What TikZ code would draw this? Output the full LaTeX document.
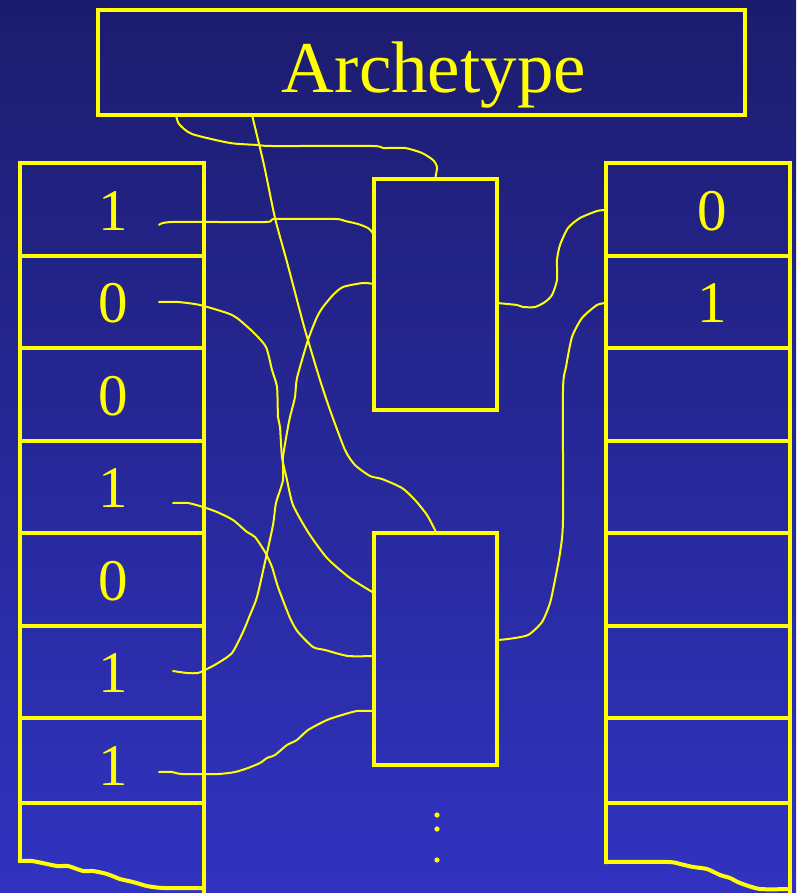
\documentclass[tikz,border=0pt]{standalone}
\usepackage{fontspec}
\setmainfont{Liberation Serif}
\usetikzlibrary{positioning}

\definecolor{bgtop}{RGB}{28,28,110}
\definecolor{bgbot}{RGB}{49,51,192}
\definecolor{wirey}{RGB}{255,255,0}

\begin{document}
\begin{tikzpicture}[x=1pt, y=-1pt,
  frame/.style={draw=wirey, line width=4pt},
  blk/.style={frame, rectangle, inner sep=0pt},
  wire/.style={draw=wirey, line width=2pt, line join=round, line cap=round},
  digit/.style={text=wirey, font=\fontsize{59}{60}\selectfont, inner sep=0pt}
]

% Background
\shade[top color=bgtop, bottom color=bgbot] (0,0) rectangle (796,893);
\useasboundingbox (0,0) rectangle (796,893);

% Archetype
\node[blk, minimum width=647pt, minimum height=105pt] (arch) at (421.5,62.5) {};
\node[text=wirey, font=\fontsize{73}{74}\selectfont, anchor=base, inner sep=0pt] (archtxt) at (434,93) {Archetype};

% Middle boxes
\node[blk, minimum width=123pt, minimum height=231pt] (upb) at (435.5,294.5) {};
\node[blk, minimum width=123pt, minimum height=232pt] (lwb) at (435.5,649) {};

% Left column
\draw[frame] (20,861) -- (20,163) -- (204,163) -- (204,893);
\foreach \y in {256,348,441,533,626,718,803}
  \draw[frame] (20,\y) -- (204,\y);
\draw[frame, line join=round] plot[smooth, tension=0.4] coordinates {(18,861) (32,861) (57,866) (68,866) (83,871) (93,871) (107,874) (120,879) (133,882) (147,886) (163,888) (204,888)};

\node[digit] (l1) at (113,211) {1};
\node[digit] (l2) at (113,303.5) {0};
\node[digit] (l3) at (113,396) {0};
\node[digit] (l4) at (113,488.5) {1};
\node[digit] (l5) at (113,581) {0};
\node[digit] (l6) at (113,673.5) {1};
\node[digit] (l7) at (113,766) {1};

% Right column
\draw[frame] (606,861) -- (606,163) -- (790,163) -- (790,893);
\foreach \y in {256,348,441,533,626,718,803}
  \draw[frame] (606,\y) -- (790,\y);
\draw[frame, line join=round] plot[smooth, tension=0.4] coordinates {(604,862) (668,862) (680,864) (693,867) (707,869) (720,875) (730,878) (740,883) (760,889) (790,889)};

\node[digit] (r1) at (712,211) {0};
\node[digit] (r2) at (712,303.5) {1};

% Ports
\coordinate (aA) at (176,115);
\coordinate (aB) at (252,115);
\coordinate (p1) at (159,225);
\coordinate (p2) at (159,302);
\coordinate (p4) at (173,503);
\coordinate (p6) at (173,671);
\coordinate (p7) at (159,772);
\coordinate (u1) at (374,236);
\coordinate (u2) at (374,284);
\coordinate (u3) at (497,303);
\coordinate (d1) at (374,593);
\coordinate (d2) at (374,656);
\coordinate (d3) at (374,711);
\coordinate (d4) at (497,640);
\coordinate (q1) at (606,210);
\coordinate (q2) at (606,303);

% Wires
\draw[wire] plot[smooth, tension=0.4] coordinates {(aA) (179,124) (192,134) (230,143) (258,145) (272,146) (372,146) (383,148) (405,148) (422,153) (433,160) (437,167) (upb.north)};
\draw[wire] plot[smooth, tension=0.4] coordinates {(aB) (264,165) (275,218) (287,262) (297,300) (305,330) (320,380) (330,410) (345,450) (355,465) (370,476) (382,479) (402,488) (415,500) (427,515) (lwb.north)};
\draw[wire] plot[smooth, tension=0.4] coordinates {(p1) (172,222) (265,222) (275,219) (335,219) (345,221) (358,224) (368,228) (372,232) (u1)};
\draw[wire] plot[smooth, tension=0.4] coordinates {(u2) (363,283) (343,287) (333,295) (323,307) (317,317) (308,340) (297,378) (295,397) (290,417) (288,427) (283,457) (283,480) (276,503) (273,525) (265,562) (257,597) (250,615) (243,632) (232,653) (218,663) (207,669) (198,673) (187,673) (p6)};
\draw[wire] plot[smooth, tension=0.4] coordinates {(p2) (178,302) (200,305) (227,313) (237,318) (253,332) (266,347) (272,370) (277,387) (278,417) (280,427) (282,457) (287,480) (293,505) (308,532) (327,558) (350,578) (d1)};
\draw[wire] plot[smooth, tension=0.4] coordinates {(p4) (188,503) (203,507) (217,512) (233,520) (247,532) (255,537) (265,552) (272,567) (278,587) (290,618) (298,632) (313,647) (325,650) (348,656) (d2)};
\draw[wire] plot[smooth, tension=0.4] coordinates {(p7) (172,772) (182,774) (218,774) (235,772) (248,768) (260,763) (267,758) (275,755) (287,745) (297,740) (308,730) (327,720) (342,715) (357,711) (d3)};
\draw[wire] plot[smooth, tension=0.4] coordinates {(u3) (517,305) (523,307) (535,307) (545,302) (552,295) (557,280) (557,260) (560,245) (568,228) (580,218) (597,211) (q1)};
\draw[wire] plot[smooth, tension=0.4] coordinates {(d4) (508,639) (528,635) (542,622) (550,603) (555,580) (560,553) (563,520) (563,390) (566,367) (572,337) (582,318) (597,305) (q2)};

% Dots
\foreach \y in {815,829,860}
  \fill[wirey] (437,\y) circle (2.6pt);

\end{tikzpicture}
\end{document}
